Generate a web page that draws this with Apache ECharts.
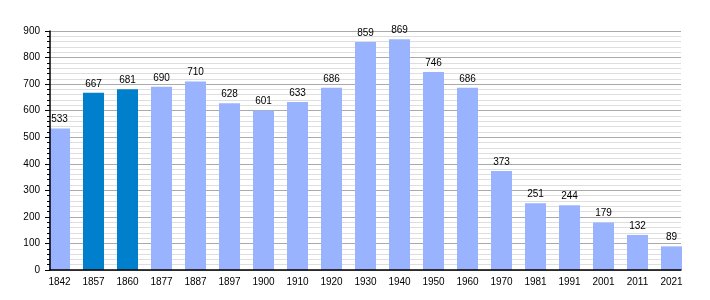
<!DOCTYPE html>
<html>
<head>
<meta charset="utf-8">
<script src="https://cdn.jsdelivr.net/npm/echarts@6/dist/echarts.min.js"></script>
<style>html,body{margin:0;padding:0;background:#fff}#c{width:710px;height:300px}</style>
</head>
<body>
<div id="c"></div>
<script>
const years = ['1842','1857','1860','1877','1887','1897','1900','1910','1920','1930','1940','1950','1960','1970','1981','1991','2001','2011','2021'];
const population = [533,667,681,690,710,628,601,633,686,859,869,746,686,373,251,244,179,132,89];
const highlighted = ['1857','1860'];
const yTicks = [0,100,200,300,400,500,600,700,800,900];

const LIGHT = '#99b3ff', DARK = '#0080cc';
const FONT = 'Liberation Sans, Arial, sans-serif';
const chart = echarts.init(document.getElementById('c'), null, {renderer:'canvas'});
chart.setOption({
  animation:false,
  backgroundColor:'#fff',
  grid:[
    {left:50, right:29, top:31, bottom:30},
    {left:42.5, width:646, top:31, bottom:30}
  ],
  xAxis:[
    {gridIndex:0, type:'value', min:0, max:1, show:true, z:10,
     axisLine:{show:true, onZero:false, lineStyle:{color:'#000', width:1.5}},
     axisTick:{show:false}, axisLabel:{show:false}, splitLine:{show:false}},
    {gridIndex:1, type:'category', data:years,
     axisLine:{show:false}, axisTick:{show:false},
     axisLabel:{color:'#000', fontSize:10, fontFamily:FONT, margin:7, interval:0}}
  ],
  yAxis:[
    {gridIndex:0, type:'value', min:yTicks[0], max:yTicks[yTicks.length-1], interval:100, z:10,
     axisLine:{show:true, lineStyle:{color:'#000', width:1.5}},
     axisTick:{show:true, length:5, lineStyle:{color:'#000'}},
     minorTick:{show:true, splitNumber:5, length:3, lineStyle:{color:'#000'}},
     axisLabel:{color:'#000', fontSize:10, fontFamily:FONT, margin:10},
     splitLine:{show:false},
     minorSplitLine:{show:false}},
    {gridIndex:0, type:'value', min:yTicks[0], max:yTicks[yTicks.length-1], interval:100, z:0,
     axisLine:{show:false}, axisTick:{show:false}, axisLabel:{show:false},
     splitLine:{show:true, lineStyle:{color:'#aaaaaa', width:1}},
     minorTick:{show:false, splitNumber:5},
     minorSplitLine:{show:true, lineStyle:{color:'#dedede', width:1}}},
    {gridIndex:1, type:'value', min:yTicks[0], max:yTicks[yTicks.length-1], show:false,
     splitLine:{show:false}}
  ],
  series:[{
    type:'bar', xAxisIndex:1, yAxisIndex:2,
    barWidth:21,
    data: population.map((v,i)=>({value:v, itemStyle:{color: highlighted.includes(years[i]) ? DARK : LIGHT}})),
    label:{show:true, position:'top', distance:4, color:'#000', fontSize:10, fontFamily:FONT},
    z:5
  }]
});
</script>
</body>
</html>
